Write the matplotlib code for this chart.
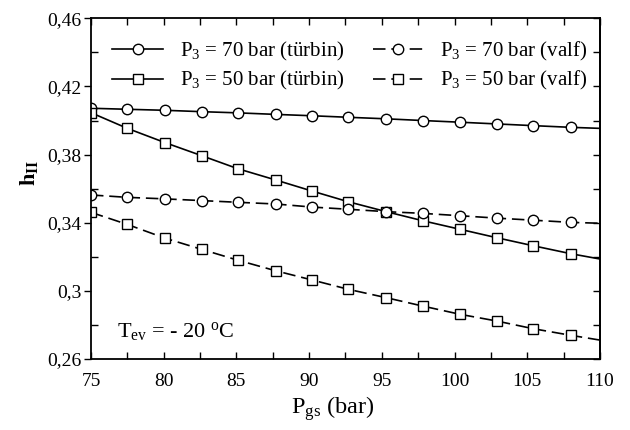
import numpy as np
import matplotlib
matplotlib.use('Agg')
import matplotlib.pyplot as plt
from matplotlib.ticker import MultipleLocator, FixedLocator, FuncFormatter

plt.rcParams['font.family'] = ['Liberation Serif', 'DejaVu Serif']
plt.rcParams['mathtext.fontset'] = 'custom'
plt.rcParams['mathtext.rm'] = 'Liberation Serif'
plt.rcParams['mathtext.it'] = 'Liberation Serif'
plt.rcParams['mathtext.bf'] = 'Liberation Serif:bold'

# P_gs values (last point is the line end, no marker)
p_gs = [75, 77.5, 80.1, 82.6, 85.1, 87.7, 90.2, 92.7, 95.3, 97.8, 100.4, 102.9, 105.4, 108.0, 110]

p70_turbin = [0.4072, 0.4066, 0.4060, 0.4052, 0.4045, 0.4036, 0.4028, 0.4019, 0.4010, 0.4000,
              0.3990, 0.3980, 0.3970, 0.3960, 0.3954]
p50_turbin = [0.4046, 0.3954, 0.3870, 0.3794, 0.3717, 0.3651, 0.3586, 0.3523, 0.3465, 0.3412,
              0.3361, 0.3312, 0.3265, 0.3218, 0.3187]
p70_valf = [0.3563, 0.3549, 0.3540, 0.3530, 0.3520, 0.3510, 0.3492, 0.3479, 0.3465, 0.3455,
            0.3441, 0.3427, 0.3415, 0.3402, 0.3397]
p50_valf = [0.3461, 0.3390, 0.3309, 0.3244, 0.3180, 0.3118, 0.3064, 0.3009, 0.2960, 0.2911,
            0.2862, 0.2823, 0.2778, 0.2739, 0.2711]

labels = ['P$_3$ = 70 bar (türbin)', 'P$_3$ = 50 bar (türbin)',
          'P$_3$ = 70 bar (valf)', 'P$_3$ = 50 bar (valf)']

y_major = [0.26, 0.30, 0.34, 0.38, 0.42, 0.46]
y_minor = [0.28, 0.32, 0.36, 0.40, 0.44]

fig = plt.figure(figsize=(6.3, 4.3), dpi=100)
ax = fig.add_axes([0.1444, 0.1651, 0.8080, 0.7923])

mk = list(range(len(p_gs) - 1))
common = dict(color='black', linewidth=1.2, markerfacecolor='white',
              markeredgecolor='black', markeredgewidth=1.0, markevery=mk)
ax.plot(p_gs, p70_turbin, marker='o', markersize=7.5, linestyle='-', label=labels[0], **common)
ax.plot(p_gs, p50_turbin, marker='s', markersize=6.5, linestyle='-', label=labels[1], **common)
ax.plot(p_gs, p70_valf, marker='o', markersize=7.5, linestyle='--', dashes=(7.5, 3.5),
        label=labels[2], **common)
ax.plot(p_gs, p50_valf, marker='s', markersize=6.5, linestyle='--', dashes=(7.5, 3.5),
        label=labels[3], **common)

ax.set_xlim(75, 110)
ax.set_ylim(0.26, 0.46)
ax.xaxis.set_major_locator(MultipleLocator(5))
ax.xaxis.set_minor_locator(MultipleLocator(2.5))
ax.yaxis.set_major_locator(FixedLocator(y_major))
ax.yaxis.set_minor_locator(FixedLocator(y_minor))
ax.yaxis.set_major_formatter(FuncFormatter(lambda v, p: ('%g' % round(v, 2)).replace('.', ',')))

ax.tick_params(axis='x', which='both', direction='in', top=True, length=5, width=1,
               labelsize=14, pad=10)
ax.tick_params(axis='y', which='major', direction='out', right=False, length=5, width=1,
               labelsize=14, pad=2)
ax.tick_params(axis='y', which='minor', direction='in', right=False, length=5, width=1)
for s in ax.spines.values():
    s.set_linewidth(1.3)

sec = ax.secondary_yaxis('right')
sec.yaxis.set_major_locator(FixedLocator(y_major))
sec.yaxis.set_minor_locator(FixedLocator(y_minor))
sec.tick_params(which='both', direction='in', length=5, width=1, labelright=False)
sec.spines['right'].set_linewidth(1.3)

ax.set_xlabel('P$_{gs}$ (bar)', fontsize=17.5)
ax.xaxis.set_label_coords(0.475, -0.102)
ax.xaxis.label.set_va('top')
ax.set_ylabel(r'$\mathbf{h_{II}}$', fontsize=16)
ax.yaxis.set_label_coords(-0.10, 0.545)

ax.text(0.052, 0.065, 'T$_{ev}$ = - 20 $^{\\mathrm{o}}$C', transform=ax.transAxes, fontsize=16)

ax.legend(loc='upper left', bbox_to_anchor=(0.009, 0.985), ncol=2, frameon=False,
          fontsize=15, handlelength=2.45, columnspacing=1.35, handletextpad=0.8,
          labelspacing=0.3, borderaxespad=0.4)

plt.savefig('out.png', dpi=100, facecolor='white')
plt.close()
